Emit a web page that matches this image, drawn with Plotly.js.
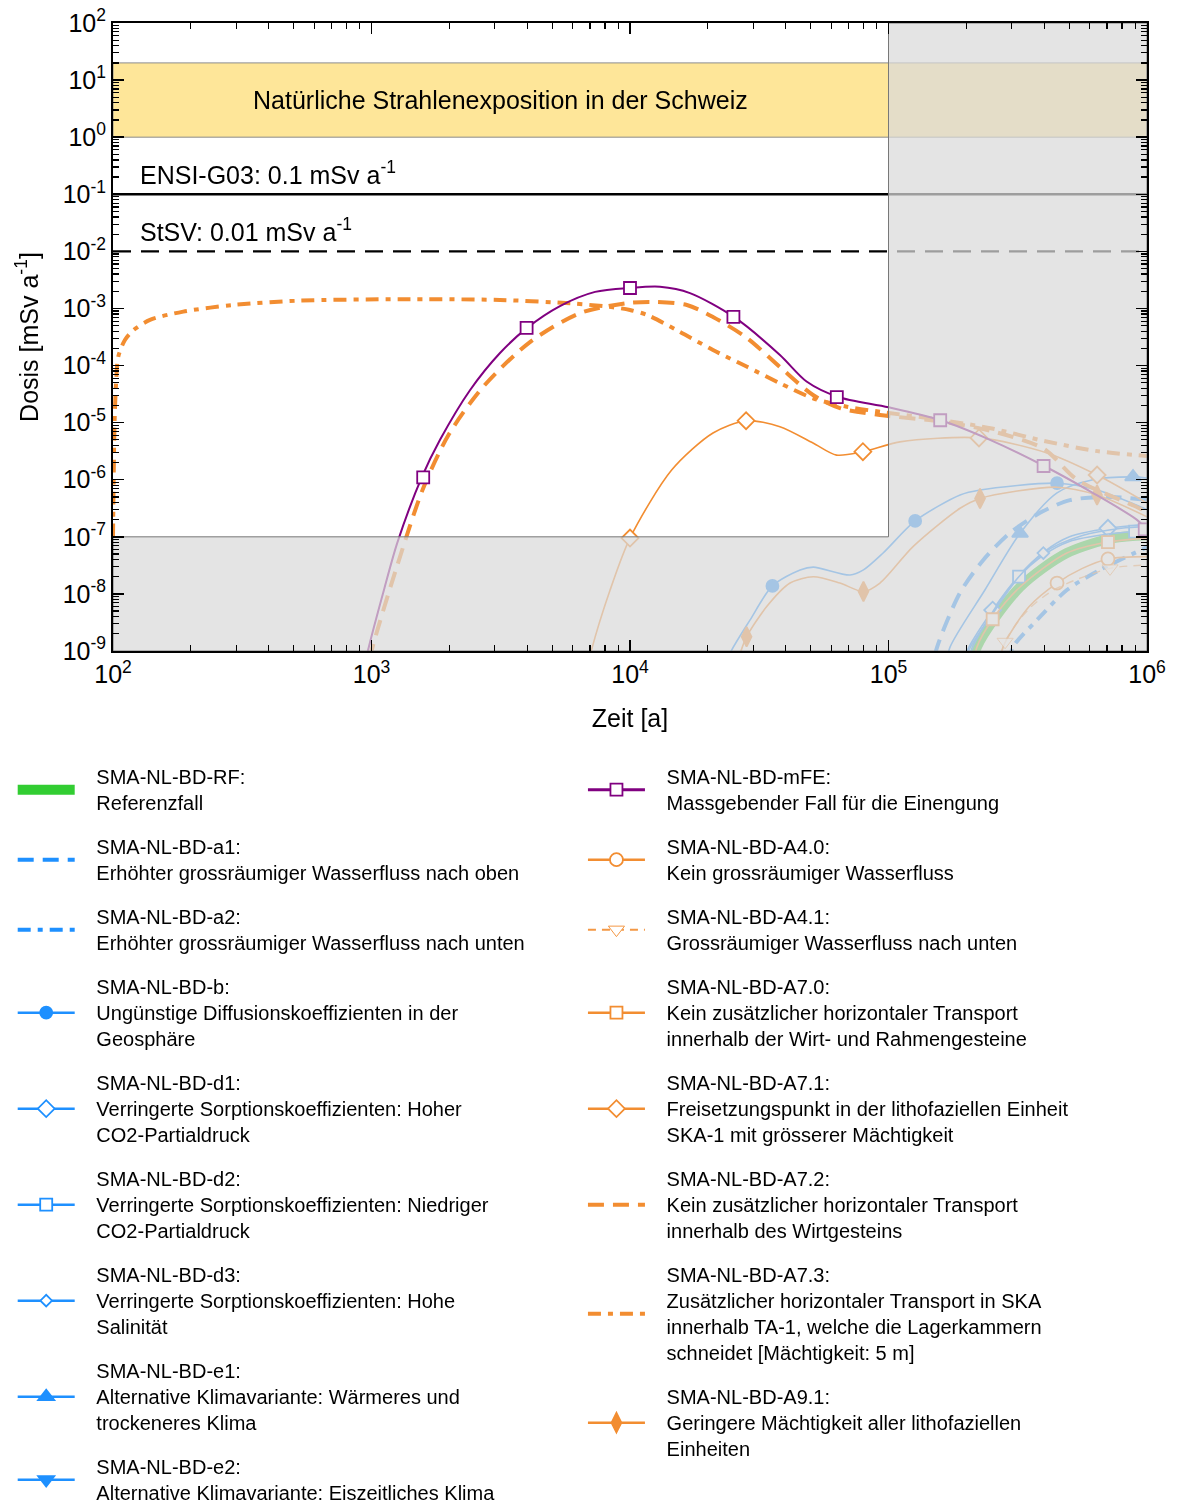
<!DOCTYPE html>
<html><head><meta charset="utf-8">
<script src="https://cdn.plot.ly/plotly-3.0.1.min.js"></script>
<style>body{margin:0;background:#fff}</style>
</head><body>
<div id="chart" style="width:1177px;height:1504px"></div>
<script>
// ---------- tick labels ----------
const xTickVals = [1e2, 1e3, 1e4, 1e5, 1e6];
const xTickText = ['10<sup>2</sup>', '10<sup>3</sup>', '10<sup>4</sup>', '10<sup>5</sup>', '10<sup>6</sup>'];
const yTickVals = [1e-9, 1e-8, 1e-7, 1e-6, 1e-5, 1e-4, 1e-3, 1e-2, 1e-1, 1e0, 1e1, 1e2];
const yTickText = ['10<sup>-9</sup>', '10<sup>-8</sup>', '10<sup>-7</sup>', '10<sup>-6</sup>', '10<sup>-5</sup>', '10<sup>-4</sup>',
  '10<sup>-3</sup>', '10<sup>-2</sup>', '10<sup>-1</sup>', '10<sup>0</sup>', '10<sup>1</sup>', '10<sup>2</sup>'];

// ---------- reference levels ----------
const bandLow = 1, bandHigh = 20;          // natural radiation exposure band
const ensiLimit = 0.1, stsvLimit = 0.01;   // regulatory limits
const grayX = 1e5, grayY = 1e-7;           // limits of the white (relevant) region

// ---------- series (x: Zeit [a], y: Dosis [mSv/a]) ----------
const mFE_x = [891, 968, 1122, 1259, 1567, 1841, 2404, 3141, 4000, 5358, 7328, 10000, 13060, 17060, 25230, 38020, 48200, 63830, 100000, 158100, 247000, 400000, 616600, 912000, 1000000];
const mFE_y = [1.6e-10, 1e-9, 1.26e-8, 7.9e-8, 1.12e-6, 5.0e-6, 3.7e-5, 1.66e-4, 4.57e-4, 1.1e-3, 1.95e-3, 2.29e-3, 2.4e-3, 1.86e-3, 7.1e-4, 1.53e-4, 5.25e-5, 2.82e-5, 1.86e-5, 1.11e-5, 5.0e-6, 1.74e-6, 5.9e-7, 2.0e-7, 1.32e-7];
const mFE_mx = [1585, 3981, 10000, 25120, 63100, 158500, 398100, 980000];
const mFE_my = [1.1e-6, 4.57e-4, 2.28e-3, 7.1e-4, 2.8e-5, 1.1e-5, 1.74e-6, 1.35e-7];

const A72_x = [891, 1000, 1259, 1585, 1995, 2698, 4102, 6412, 9727, 12270, 16600, 20940, 28380, 38020, 51050, 64860, 92680, 158500, 251200, 398100, 537000, 891000, 1000000];
const A72_y = [1e-10, 1e-9, 3.2e-8, 7.1e-7, 6.3e-6, 4.2e-5, 2.58e-4, 8.3e-4, 1.24e-3, 1.30e-3, 1.15e-3, 7.1e-4, 3.03e-4, 9.4e-5, 3.05e-5, 1.8e-5, 1.36e-5, 1.05e-5, 7.1e-6, 3.5e-6, 1e-6, 3.5e-7, 2.7e-7];

const A73_x = [100, 101.4, 102.8, 104.8, 111.2, 120, 139, 187, 292, 528, 1288, 3141, 5861, 8590, 10000, 11640, 15600, 20940, 28380, 38020, 51050, 69020, 92680, 158500, 251200, 398100, 631000, 1000000];
const A73_y = [1e-7, 1e-5, 5e-5, 1.43e-4, 2.8e-4, 4.17e-4, 6.3e-4, 8.8e-4, 1.15e-3, 1.37e-3, 1.45e-3, 1.41e-3, 1.23e-3, 1.05e-3, 9.4e-4, 7.7e-4, 3.9e-4, 1.87e-4, 9.5e-5, 4.9e-5, 2.67e-5, 1.9e-5, 1.55e-5, 1.12e-5, 7.9e-6, 4.8e-6, 3.2e-6, 2.6e-6];

const A71_x = [6761, 7079, 8375, 10000, 14490, 20940, 28120, 38020, 51050, 62950, 79620, 110700, 223900, 410000, 641200, 1000000];
const A71_y = [4e-10, 1e-9, 1.17e-8, 9.5e-8, 1.48e-6, 6.6e-6, 1.08e-5, 8.5e-6, 4.4e-6, 2.7e-6, 3.1e-6, 4.6e-6, 5.4e-6, 2.95e-6, 1.21e-6, 3.9e-7];
const A71_mx = [10000, 28120, 79620, 223900, 641200];
const A71_my = [9.5e-8, 1.08e-5, 3.1e-6, 5.4e-6, 1.21e-6];

const A91_x = [25500, 26670, 28250, 33800, 41600, 51170, 64860, 80000, 92700, 124700, 189200, 226000, 448700, 641000, 1000000];
const A91_y = [5e-10, 9.1e-10, 1.78e-9, 6.0e-9, 1.55e-8, 2.0e-8, 1.55e-8, 1.1e-8, 1.55e-8, 6.8e-8, 3.16e-7, 4.7e-7, 7.4e-7, 5.4e-7, 2.24e-7];
const A91_mx = [28250, 80000, 226000, 641000];
const A91_my = [1.78e-9, 1.1e-8, 4.7e-7, 5.4e-7];

const b_x = [23300, 24380, 29110, 35560, 45500, 51170, 70960, 80000, 95300, 126800, 189200, 226000, 448700, 641000, 1000000];
const b_y = [4.7e-10, 9.1e-10, 3.47e-9, 1.38e-8, 2.63e-8, 2.95e-8, 2.14e-8, 2.63e-8, 5.2e-8, 1.9e-7, 5.4e-7, 6.6e-7, 8.7e-7, 6.6e-7, 3.0e-7];
const b_mx = [35560, 126800, 448700];
const b_my = [1.38e-8, 1.9e-7, 8.7e-7];

const e1_x = [166000, 173000, 236000, 322800, 448700, 618000, 883000, 1000000];
const e1_y = [5e-10, 1.17e-9, 1.17e-8, 1.15e-7, 5.9e-7, 1e-6, 1.12e-6, 1.07e-6];
const e1_mx = [322800, 883000];
const e1_my = [1.15e-7, 1.12e-6];

const a1_x = [144500, 154200, 189200, 232300, 295100, 385500, 503500, 719500, 1000000];
const a1_y = [3.2e-10, 1.17e-9, 1.05e-8, 3.9e-8, 1.17e-7, 2.63e-7, 4.4e-7, 5.0e-7, 4.4e-7];

const d1_x = [190500, 201400, 252900, 319900, 398100, 501200, 706300, 1000000];
const d1_y = [3.2e-10, 1e-9, 5.2e-9, 2.1e-8, 5.4e-8, 1e-7, 1.41e-7, 1.66e-7];
const d1_mx = [252900, 706300];
const d1_my = [5.2e-9, 1.41e-7];

const d2_x = [195000, 204200, 252900, 319900, 398100, 501200, 707900, 899500, 1000000];
const d2_y = [3.2e-10, 1e-9, 4.5e-9, 2.0e-8, 4.8e-8, 8.3e-8, 1.12e-7, 1.23e-7, 1.26e-7];
const d2_mx = [319900, 899500];
const d2_my = [2.0e-8, 1.23e-7];

const d3_x = [199500, 208900, 281800, 397200, 562300, 794300, 1000000];
const d3_y = [3.2e-10, 1e-9, 1e-8, 5.2e-8, 1.05e-7, 1.41e-7, 1.5e-7];
const d3_mx = [397200];
const d3_my = [5.2e-8];

const RF_x = [208900, 219800, 322800, 489800, 738000, 1000000];
const RF_y = [3.2e-10, 1.17e-9, 1.32e-8, 5.2e-8, 9.5e-8, 1.07e-7];

const A70_x = [208900, 219800, 252900, 322800, 489800, 706300, 1000000];
const A70_y = [3.2e-10, 1.17e-9, 3.6e-9, 1.32e-8, 5.2e-8, 8.1e-8, 9.5e-8];
const A70_mx = [252900, 706300];
const A70_my = [3.6e-9, 8.1e-8];

const A40_x = [263000, 277300, 350000, 448700, 562300, 706300, 1000000];
const A40_y = [3.2e-10, 1.17e-9, 6e-9, 1.55e-8, 2.8e-8, 4.1e-8, 4.5e-8];
const A40_mx = [448700, 706300];
const A40_my = [1.55e-8, 4.1e-8];

const A41_x = [263000, 282500, 350000, 448700, 719500, 1000000];
const A41_y = [3e-10, 1.45e-9, 5.5e-9, 1.26e-8, 2.8e-8, 3.2e-8];
const A41_mx = [282500, 719500];
const A41_my = [1.45e-9, 2.8e-8];

const a2_x = [288400, 303400, 375800, 489800, 657700, 1000000];
const a2_y = [4e-10, 1.17e-9, 3.5e-9, 1.17e-8, 2.63e-8, 6.6e-8];

// ---------- legend texts (one entry per line) ----------
const names = {
  RF: ['SMA-NL-BD-RF:', 'Referenzfall'],
  a1: ['SMA-NL-BD-a1:', 'Erhöhter grossräumiger Wasserfluss nach oben'],
  a2: ['SMA-NL-BD-a2:', 'Erhöhter grossräumiger Wasserfluss nach unten'],
  b: ['SMA-NL-BD-b:', 'Ungünstige Diffusionskoeffizienten in der', 'Geosphäre'],
  d1: ['SMA-NL-BD-d1:', 'Verringerte Sorptionskoeffizienten: Hoher', 'CO2-Partialdruck'],
  d2: ['SMA-NL-BD-d2:', 'Verringerte Sorptionskoeffizienten: Niedriger', 'CO2-Partialdruck'],
  d3: ['SMA-NL-BD-d3:', 'Verringerte Sorptionskoeffizienten: Hohe', 'Salinität'],
  e1: ['SMA-NL-BD-e1:', 'Alternative Klimavariante: Wärmeres und', 'trockeneres Klima'],
  e2: ['SMA-NL-BD-e2:', 'Alternative Klimavariante: Eiszeitliches Klima'],
  mFE: ['SMA-NL-BD-mFE:', 'Massgebender Fall für die Einengung'],
  A40: ['SMA-NL-BD-A4.0:', 'Kein grossräumiger Wasserfluss'],
  A41: ['SMA-NL-BD-A4.1:', 'Grossräumiger Wasserfluss nach unten'],
  A70: ['SMA-NL-BD-A7.0:', 'Kein zusätzlicher horizontaler Transport', 'innerhalb der Wirt- und Rahmengesteine'],
  A71: ['SMA-NL-BD-A7.1:', 'Freisetzungspunkt in der lithofaziellen Einheit', 'SKA-1 mit grösserer Mächtigkeit'],
  A72: ['SMA-NL-BD-A7.2:', 'Kein zusätzlicher horizontaler Transport', 'innerhalb des Wirtgesteins'],
  A73: ['SMA-NL-BD-A7.3:', 'Zusätzlicher horizontaler Transport in SKA', 'innerhalb TA-1, welche die Lagerkammern', 'schneidet [Mächtigkeit: 5 m]'],
  A91: ['SMA-NL-BD-A9.1:', 'Geringere Mächtigkeit aller lithofaziellen', 'Einheiten']
};
const PAD = '\u00a0\u00a0\u00a0';
function legendName(key) { return names[key].map(s => PAD + s).join('<br>'); }

// ---------- styles ----------
const PURPLE = 'rgb(128,0,128)', ORANGE = 'rgb(242,141,49)', BLUE = 'rgb(30,144,255)', GREEN = 'rgb(50,205,50)';
const DASH = '16px,9px', DASHDOT = '13px,7px,5px,7px';

const traces = [];
const legendTraces = [];
function series(key, xs, ys, mx, my, st, legendId) {
  const line = {color: st.color, width: st.width, dash: st.dash || 'solid', shape: 'spline', smoothing: 0.8};
  const op = st.opacity || 1;
  let marker = null;
  if (st.symbol) marker = {symbol: st.symbol, size: st.size, color: st.fill || st.color,
    line: {color: st.color, width: st.mlw !== undefined ? st.mlw : 1.8}};
  if (xs) traces.push({x: xs, y: ys, mode: 'lines', line: line, showlegend: false, hoverinfo: 'skip', opacity: op});
  if (mx) traces.push({x: mx, y: my, mode: 'markers', marker: marker, showlegend: false, hoverinfo: 'skip', opacity: op});
  const lt = {x: [null], y: [null], mode: marker ? 'lines+markers' : 'lines', name: legendName(key),
    line: {color: st.color, width: st.legendWidth || st.width, dash: st.dash || 'solid'}, legend: legendId, legendgroup: key,
    opacity: st.legendOpacity || op};
  if (marker) lt.marker = marker;
  legendTraces.push(lt);
}

series('RF', RF_x, RF_y, null, null, {color: GREEN, width: 10}, 'legend');
series('a1', a1_x, a1_y, null, null, {color: BLUE, width: 4, dash: DASH}, 'legend');
series('a2', a2_x, a2_y, null, null, {color: BLUE, width: 4, dash: DASHDOT}, 'legend');
series('b', b_x, b_y, b_mx, b_my, {color: BLUE, width: 1.6, legendWidth: 2.5, symbol: 'circle', size: 12}, 'legend');
series('d1', d1_x, d1_y, d1_mx, d1_my, {color: BLUE, width: 1.6, legendWidth: 2.5, symbol: 'diamond', size: 13, fill: 'white'}, 'legend');
series('d2', d2_x, d2_y, d2_mx, d2_my, {color: BLUE, width: 1.6, legendWidth: 2.5, symbol: 'square', size: 12, fill: 'white'}, 'legend');
series('d3', d3_x, d3_y, d3_mx, d3_my, {color: BLUE, width: 1.6, legendWidth: 2.5, symbol: 'diamond', size: 9, fill: 'white'}, 'legend');
series('e1', e1_x, e1_y, e1_mx, e1_my, {color: BLUE, width: 1.6, legendWidth: 2.5, symbol: 'triangle-up', size: 14}, 'legend');
series('e2', null, null, null, null, {color: BLUE, width: 1.6, legendWidth: 2.5, symbol: 'triangle-down', size: 14}, 'legend');

series('A40', A40_x, A40_y, A40_mx, A40_my, {color: ORANGE, width: 1.6, legendWidth: 2.5, symbol: 'circle', size: 13, fill: 'white'}, 'legend2');
series('A41', A41_x, A41_y, A41_mx, A41_my, {color: ORANGE, width: 1.4, legendWidth: 2, dash: '8px,6px', symbol: 'triangle-down', size: 14, fill: 'white', mlw: 1, opacity: 0.75, legendOpacity: 0.9}, 'legend2');
series('A70', A70_x, A70_y, A70_mx, A70_my, {color: ORANGE, width: 1.6, legendWidth: 2.5, symbol: 'square', size: 12, fill: 'white'}, 'legend2');
series('A91', A91_x, A91_y, A91_mx, A91_my, {color: ORANGE, width: 1.6, legendWidth: 2.5, symbol: 'diamond-tall', size: 14}, 'legend2');
series('A71', A71_x, A71_y, A71_mx, A71_my, {color: ORANGE, width: 1.6, legendWidth: 2.5, symbol: 'diamond', size: 13, fill: 'white'}, 'legend2');
series('A73', A73_x, A73_y, null, null, {color: ORANGE, width: 4, dash: DASHDOT}, 'legend2');
series('A72', A72_x, A72_y, null, null, {color: ORANGE, width: 4, dash: DASH}, 'legend2');
series('mFE', mFE_x, mFE_y, mFE_mx, mFE_my, {color: PURPLE, width: 2, legendWidth: 3, symbol: 'square', size: 12, fill: 'white'}, 'legend2');

// gray overlay of the non-relevant region (drawn over the curves)
traces.push({x: [1e2, 1e6, 1e6, grayX, grayX, 1e2, 1e2], y: [1e-9, 1e-9, 1e2, 1e2, grayY, grayY, 1e-9],
  mode: 'lines', fill: 'toself', fillcolor: 'rgba(217,217,217,0.72)', line: {color: 'rgb(120,120,120)', width: 1},
  showlegend: false, hoverinfo: 'skip'});

// legend order: left column then right column
const leftOrder = ['RF', 'a1', 'a2', 'b', 'd1', 'd2', 'd3', 'e1', 'e2'];
const rightOrder = ['mFE', 'A40', 'A41', 'A70', 'A71', 'A72', 'A73', 'A91'];
const byKey = {}; legendTraces.forEach(t => byKey[t.legendgroup] = t);
leftOrder.concat(rightOrder).forEach(k => traces.push(byKey[k]));

// minor ticks
const xMinor = [], yMinor = [];
for (let e = 2; e < 6; e++) for (let m = 2; m <= 9; m++) xMinor.push(m * Math.pow(10, e));
for (let e = -9; e < 2; e++) for (let m = 2; m <= 9; m++) yMinor.push(m * Math.pow(10, e));

const FONT = 'Liberation Sans, Arial, Helvetica, sans-serif';
const minorCommon = {tickmode: 'array', ticks: 'inside', ticklen: 6, tickwidth: 1.2, tickcolor: '#000', showgrid: false};
function axis(extra) {
  return Object.assign({
    type: 'log', tickmode: 'array', ticks: 'inside', ticklen: 11, tickwidth: 1.5, tickcolor: '#000',
    showline: true, linewidth: 2, linecolor: '#000', mirror: 'allticks', showgrid: false, zeroline: false,
    tickfont: {size: 25, color: '#000'}
  }, extra);
}
const legendCommon = {xanchor: 'left', yanchor: 'top', orientation: 'v',
  font: {size: 20, family: FONT, color: '#000'}, tracegroupgap: 15, itemwidth: 57,
  bgcolor: 'rgba(0,0,0,0)', traceorder: 'grouped'};

const layout = {
  width: 1177, height: 1504,
  margin: {l: 113, r: 30, t: 23, b: 853, autoexpand: false},
  paper_bgcolor: 'white', plot_bgcolor: 'white',
  font: {family: FONT, color: '#000'},
  xaxis: axis({range: [2, 6], tickvals: xTickVals, ticktext: xTickText,
    title: {text: 'Zeit [a]', font: {size: 25}, standoff: 22},
    minor: Object.assign({}, minorCommon, {tickvals: xMinor})}),
  yaxis: axis({range: [-9, 2], tickvals: yTickVals, ticktext: yTickText,
    title: {text: 'Dosis [mSv a<sup>-1</sup>]', font: {size: 25}, standoff: 17},
    minor: Object.assign({}, minorCommon, {tickvals: yMinor})}),
  showlegend: true,
  legend: Object.assign({x: -0.097, y: -0.169}, legendCommon),
  legend2: Object.assign({x: 0.4545, y: -0.169}, legendCommon),
  shapes: [
    {type: 'rect', xref: 'paper', x0: 0, x1: 1, yref: 'y', y0: bandLow, y1: bandHigh,
      fillcolor: 'rgb(254,230,153)', line: {color: 'rgb(140,140,140)', width: 1}, layer: 'below'},
    {type: 'line', xref: 'paper', x0: 0, x1: 1, yref: 'y', y0: ensiLimit, y1: ensiLimit,
      line: {color: '#000', width: 2.5}, layer: 'below'},
    {type: 'line', xref: 'paper', x0: 0, x1: 1, yref: 'y', y0: stsvLimit, y1: stsvLimit,
      line: {color: '#000', width: 2.2, dash: '18px,10px'}, layer: 'below'}
  ],
  annotations: [
    {xref: 'paper', x: 0.375, yref: 'y', y: Math.log10(Math.sqrt(bandLow * bandHigh)), text: 'Natürliche Strahlenexposition in der Schweiz',
      showarrow: false, font: {size: 25}},
    {xref: 'paper', x: 0.024, xanchor: 'left', yref: 'y', y: Math.log10(ensiLimit), yanchor: 'bottom', yshift: 3,
      text: 'ENSI-G03: 0.1 mSv a<sup>-1</sup>', showarrow: false, font: {size: 25}},
    {xref: 'paper', x: 0.024, xanchor: 'left', yref: 'y', y: Math.log10(stsvLimit), yanchor: 'bottom', yshift: 3,
      text: 'StSV: 0.01 mSv a<sup>-1</sup>', showarrow: false, font: {size: 25}}
  ]
};

Plotly.newPlot('chart', traces, layout, {displayModeBar: false, staticPlot: true});
</script></body></html>
